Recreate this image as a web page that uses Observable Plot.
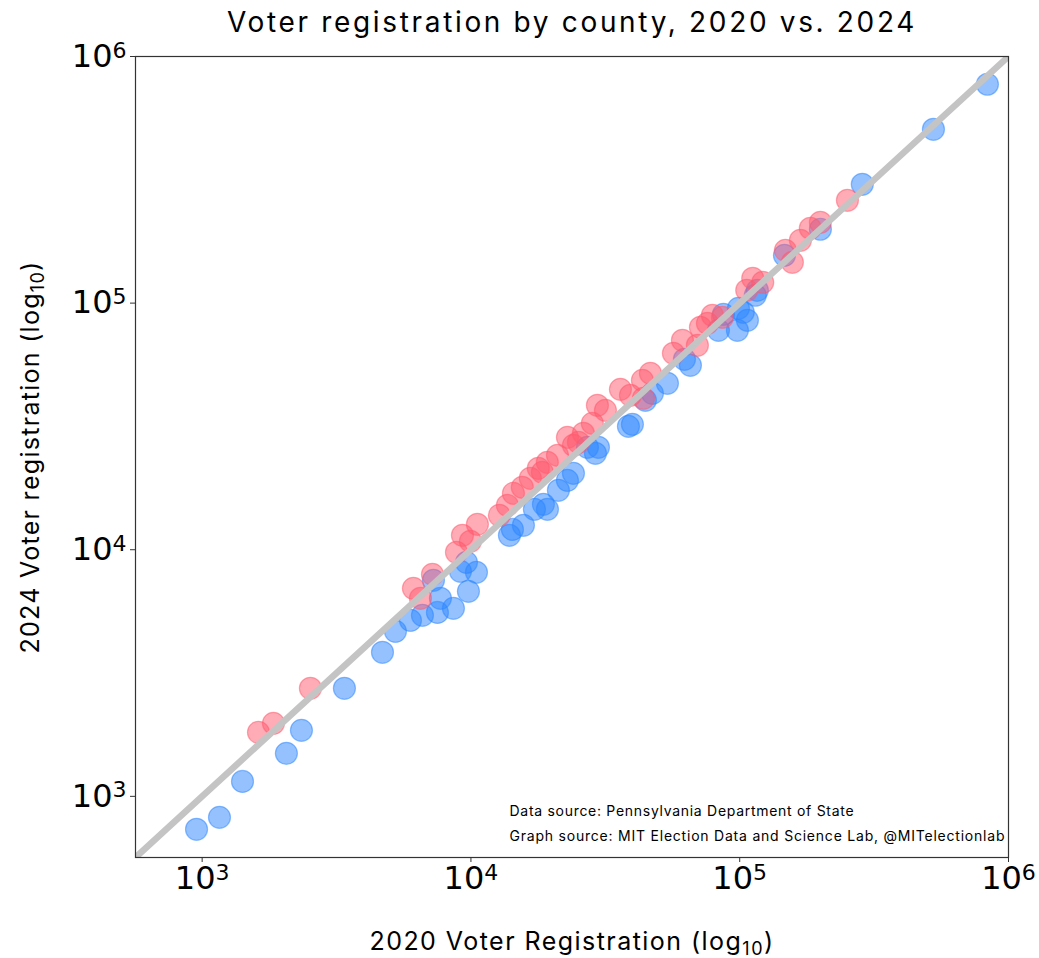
<!DOCTYPE html>
<html>
<head>
<meta charset="utf-8">
<script src="https://cdn.jsdelivr.net/npm/d3@7"></script>
<script src="https://cdn.jsdelivr.net/npm/@observablehq/plot@0.6"></script>
<style>
  html, body { margin: 0; padding: 0; background: #fff; }
  #chart svg { display: block; }
</style>
</head>
<body>
<div id="chart"></div>
<script>
// Registered voters per Pennsylvania county, 2020 (x) vs. 2024 (y)
const blue2020 = [953, 1160, 1413, 2058, 2341, 3383, 4687, 5238, 5957, 6601, 7506, 8607, 7700, 9788, 7253,
  9141, 10484, 9623, 13907, 14269, 15677, 18607, 19259, 17228, 21160, 22855, 24064, 27130, 29810, 29055,
  38546, 39881, 44590, 47340, 53830, 65550, 62280, 86990, 83340, 98040, 106800, 98900, 103100, 114300,
  116300, 146700, 199600, 285800, 525700, 834700];
const blue2024 = [735, 822, 1150, 1494, 1852, 2742, 3838, 4667, 5172, 5420, 5571, 5786, 6353, 6781, 7516,
  8174, 8099, 8889, 11440, 12093, 12562, 15283, 14585, 14585, 17415, 19113, 20410, 26017, 26017, 24604,
  31650, 32248, 40354, 43070, 47300, 55960, 59170, 90080, 77590, 77590, 85190, 95250, 91780, 107600,
  112700, 156200, 199300, 303300, 506800, 771600];

const red2020 = [1620, 1842, 2528, 6110, 6490, 7192, 8834, 9299, 9957, 10570, 12760, 13670, 14390, 15530,
  16630, 17810, 19240, 18440, 20990, 22860, 24060, 26210, 28290, 25120, 29550, 31650, 35990, 39220, 43450,
  46540, 43830, 56670, 61220, 69580, 71420, 75840, 79130, 86230, 106200, 111800, 121800, 147900, 157000,
  168200, 183100, 199600, 251600];
const red2024 = [1818, 1977, 2742, 6973, 6353, 7947, 9761, 11440, 10820, 12680, 13790, 15140, 16930, 17910,
  19480, 21390, 22620, 20600, 24150, 28560, 26500, 29650, 32550, 27260, 38510, 36750, 44710, 42270, 48630,
  51920, 41110, 62580, 70660, 67450, 79800, 82800, 89230, 87580, 112700, 126100, 121400, 163700, 146400,
  179800, 201100, 212700, 261200];

const axisDomain = [565, 1e6];
const tickValues = [1e3, 1e4, 1e5, 1e6];

const titleText = "Voter registration by county, 2020 vs. 2024";
const xLabel = "2020 Voter Registration (log\u2081\u2080)";
const yLabel = "2024 Voter registration (log\u2081\u2080)";
const dataNote = "Data source: Pennsylvania Department of State";
const graphNote = "Graph source: MIT Election Data and Science Lab, @MITelectionlab";

const bluePoints = blue2020.map((v, i) => ({x: v, y: blue2024[i]}));
const redPoints = red2020.map((v, i) => ({x: v, y: red2024[i]}));

const sans = "Inter, Lato, 'Noto Sans', sans-serif";
const tickFont = "'DejaVu Sans', sans-serif";
const dotStyle = {x: "x", y: "y", r: 11, fillOpacity: 0.5, strokeOpacity: 0.5, strokeWidth: 1.2};

const chart = Plot.plot({
  width: 1039,
  height: 958,
  marginLeft: 135,
  marginRight: 31,
  marginTop: 56,
  marginBottom: 101,
  style: {background: "#fff", color: "#000"},
  x: {type: "log", domain: axisDomain, axis: null},
  y: {type: "log", domain: axisDomain, axis: null},
  marks: [
    Plot.dot(bluePoints, {...dotStyle, fill: "#2b86ff", stroke: "#2b86ff"}),
    Plot.dot(redPoints, {...dotStyle, fill: "#ff5a6e", stroke: "#ff5a6e"}),
    Plot.line(axisDomain, {x: d => d, y: d => d, stroke: "#c4c4c4", strokeWidth: 6.5, clip: true}),
    Plot.frame({stroke: "#333", strokeWidth: 1.2}),
    Plot.axisX(tickValues, {
      tickSize: 5, tickPadding: 4, fontSize: 32, fontFamily: tickFont,
      tickFormat: d => "10" + Math.round(Math.log10(d)), label: null, stroke: "#333"
    }),
    Plot.axisY(tickValues, {
      tickSize: 5, tickPadding: 4, fontSize: 32, fontFamily: tickFont,
      tickFormat: d => "10" + Math.round(Math.log10(d)), label: null, stroke: "#333"
    }),
    Plot.text([titleText], {
      frameAnchor: "top", lineAnchor: "middle", textAnchor: "middle", dy: -33,
      text: d => d, fontSize: 28, fontFamily: sans, fill: "#000"
    }),
    Plot.text([xLabel], {
      frameAnchor: "bottom", lineAnchor: "middle", textAnchor: "middle", dy: 84,
      text: d => d, fontSize: 25, fontFamily: sans, fill: "#000"
    }),
    Plot.text([yLabel], {
      frameAnchor: "left", lineAnchor: "middle", textAnchor: "middle", dx: -105, rotate: -90,
      text: d => d, fontSize: 25, fontFamily: sans, fill: "#000"
    }),
    Plot.text([dataNote], {
      frameAnchor: "bottom-left", lineAnchor: "middle", textAnchor: "start", dx: 374, dy: -46,
      text: d => d, fontSize: 14, fontFamily: sans, fill: "#000"
    }),
    Plot.text([graphNote], {
      frameAnchor: "bottom-left", lineAnchor: "middle", textAnchor: "start", dx: 374, dy: -21,
      text: d => d, fontSize: 14, fontFamily: sans, fill: "#000"
    })
  ]
});

document.getElementById("chart").appendChild(chart);

// Turn "10N" tick labels into 10 with a superscript exponent
d3.select(chart).selectAll("g[aria-label='x-axis tick label'] text, g[aria-label='y-axis tick label'] text")
  .each(function () {
    const s = this.textContent;
    if (!/^10\d$/.test(s)) return;
    const t = d3.select(this);
    t.text(null);
    t.append("tspan").text("10");
    t.append("tspan").attr("font-size", 22).attr("dy", "-0.42em").text(s.slice(2));
  });

// Draw the "10" of "log10" as a real subscript
d3.select(chart).selectAll("text").filter(function () {
  return this.textContent.includes("\u2081\u2080");
}).each(function () {
  const [head, tail] = this.textContent.split("\u2081\u2080");
  const t = d3.select(this);
  t.text(null);
  t.append("tspan").text(head);
  t.append("tspan").attr("font-size", "0.72em").attr("dy", "0.28em").text("10");
  t.append("tspan").attr("dy", "-0.2em").text(tail);
});

// Widen the display lettering to its set width
const setWidth = (prefix, width) => {
  d3.select(chart).selectAll("text").filter(function () {
    return this.textContent.startsWith(prefix);
  }).each(function () {
    const n = this.textContent.length;
    const w = this.getComputedTextLength();
    this.setAttribute("letter-spacing", Math.max(0, (width - w) / n).toFixed(2));
  });
};
setWidth("Voter registration by", 690);
setWidth("2020 Voter", 405);
setWidth("2024 Voter", 393);
setWidth("Data source", 345);
setWidth("Graph source", 496);
</script>
</body>
</html>
